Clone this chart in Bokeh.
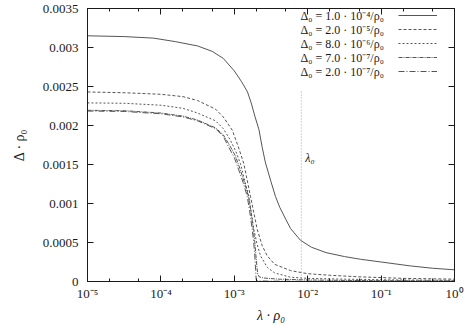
from bokeh.plotting import figure
from bokeh.models import LogAxis, LinearAxis, FixedTicker, Legend, LegendItem, Label, Range1d
from bokeh.embed import file_html
from bokeh.resources import INLINE

# ---- data ----
x_ticks = [1e-5, 1e-4, 1e-3, 1e-2, 1e-1, 1.0]
x_tick_labels = ["10⁻⁵", "10⁻⁴", "10⁻³", "10⁻²", "10⁻¹", "10⁰"]
x_minor = [2e-5, 5e-5, 2e-4, 5e-4, 2e-3, 5e-3, 2e-2, 5e-2, 2e-1, 5e-1]
y_ticks = [0.0, 0.0005, 0.001, 0.0015, 0.002, 0.0025, 0.003, 0.0035]
y_tick_labels = ["0", "0.0005", "0.001", "0.0015", "0.002", "0.0025", "0.003", "0.0035"]

series_labels = [
    "Δ₀ = 1.0 · 10⁻⁴/ρ₀",
    "Δ₀ = 2.0 · 10⁻⁵/ρ₀",
    "Δ₀ = 8.0 · 10⁻⁶/ρ₀",
    "Δ₀ = 7.0 · 10⁻⁷/ρ₀",
    "Δ₀ = 2.0 · 10⁻⁷/ρ₀",
]

lam_1 = [1e-5, 3.16e-5, 7.94e-5, 1.58e-4, 3.16e-4, 5.01e-4, 7.08e-4, 1.0e-3, 1.26e-3, 1.514e-3,
         1.698e-3, 1.905e-3, 2.163e-3, 2.399e-3, 2.661e-3, 3.162e-3, 3.639e-3, 4.169e-3, 5.012e-3, 5.834e-3,
         7.94e-3, 1.12e-2, 1.78e-2, 3.16e-2, 5.25e-2, 0.1, 0.25, 0.5, 1.0]
delta_1 = [0.003150, 0.003140, 0.003120, 0.003075, 0.003020, 0.002950, 0.002860, 0.002700, 0.002560, 0.002430,
           0.002290, 0.002120, 0.001950, 0.001720, 0.001520, 0.001280, 0.001090, 0.000950, 0.000800, 0.000680,
           0.000530, 0.000440, 0.000370, 0.000320, 0.000285, 0.000250, 0.000200, 0.000170, 0.000150]

lam_2 = [1e-5, 3.16e-5, 1e-4, 2.0e-4, 3.16e-4, 5.55e-4, 7.08e-4, 9.38e-4, 1.122e-3, 1.349e-3,
         1.663e-3, 2.051e-3, 2.399e-3, 2.805e-3, 3.548e-3, 5.834e-3, 1e-2, 2.0e-2, 5.0e-2, 0.2, 1.0]
delta_2 = [0.002430, 0.002420, 0.002400, 0.002370, 0.002320, 0.002210, 0.002110, 0.001940, 0.001740, 0.001510,
           0.001090, 0.000670, 0.000460, 0.000330, 0.000220, 0.000140, 0.000100, 0.000080, 0.000060, 0.000040,
           0.000030]

lam_3 = [1e-5, 3.16e-5, 1e-4, 2.0e-4, 3.16e-4, 5.55e-4, 7.08e-4, 8.87e-4, 1.047e-3, 1.213e-3,
         1.380e-3, 1.578e-3, 1.845e-3, 2.042e-3, 2.275e-3, 2.818e-3, 3.548e-3, 5.834e-3, 1e-2, 3.16e-2,
         0.158, 1.0]
delta_3 = [0.002290, 0.002285, 0.002260, 0.002220, 0.002160, 0.002060, 0.001960, 0.001810, 0.001670, 0.001510,
           0.001300, 0.001090, 0.000670, 0.000480, 0.000330, 0.000180, 0.000110, 0.000055, 0.000040, 0.000030,
           0.000020, 0.000015]

lam_4 = [1e-5, 3.16e-5, 1e-4, 2.0e-4, 3.16e-4, 5.55e-4, 7.08e-4, 8.71e-4, 1.035e-3, 1.189e-3,
         1.365e-3, 1.549e-3, 1.679e-3, 1.811e-3, 1.905e-3, 1.972e-3, 2.042e-3, 2.089e-3, 2.188e-3, 2.512e-3,
         3.981e-3, 1e-2, 5.0e-2, 1.0]
delta_4 = [0.002195, 0.002190, 0.002160, 0.002120, 0.002070, 0.001970, 0.001880, 0.001740, 0.001610, 0.001450,
           0.001280, 0.001100, 0.000910, 0.000680, 0.000500, 0.000330, 0.000170, 0.000090, 0.000060, 0.000045,
           0.000030, 0.000020, 0.000012, 0.000007]

lam_5 = [1e-5, 3.16e-5, 1e-4, 2.0e-4, 3.16e-4, 5.55e-4, 7.08e-4, 8.41e-4, 1.0e-3, 1.151e-3,
         1.318e-3, 1.500e-3, 1.622e-3, 1.754e-3, 1.841e-3, 1.901e-3, 1.950e-3, 1.986e-3, 2.042e-3, 3.162e-3,
         1.0]
delta_5 = [0.002185, 0.002180, 0.002150, 0.002110, 0.002060, 0.001960, 0.001860, 0.001720, 0.001590, 0.001430,
           0.001270, 0.001090, 0.000900, 0.000670, 0.000500, 0.000330, 0.000150, 0.000030, 0.000008, 0.000004,
           0.000002]

lambda_0 = 0.0082
lambda_0_line_top = 0.00245
lambda_0_label_y = 0.00158

# ---- styling ----
SERIF = "Liberation Serif"
INK = "#1a1a1a"
CURVE = "#555555"
dashes = ["solid", "3 2", "2 2", "4 1 1 1", "6 2 1 2"]

p = figure(width=464, height=325, x_axis_type="log",
           x_range=Range1d(1e-5, 1.0), y_range=Range1d(0, 0.0035),
           output_backend="svg", toolbar_location=None,
           min_border_left=87, min_border_right=10, min_border_top=8, min_border_bottom=41)
p.grid.visible = False
p.outline_line_color = INK
p.outline_line_width = 1
p.background_fill_color = "white"
p.border_fill_color = "white"


def style_axis(ax, labels=True):
    ax.axis_line_color = INK
    ax.major_tick_line_color = INK
    ax.minor_tick_line_color = INK
    ax.major_tick_in = 6
    ax.major_tick_out = 0
    ax.minor_tick_in = 3
    ax.minor_tick_out = 0
    if labels:
        ax.major_label_text_font = SERIF
        ax.major_label_text_font_size = "13px"
        ax.major_label_text_color = INK
    else:
        ax.major_label_text_font_size = "1px"
        ax.major_label_text_alpha = 0
        ax.major_label_standoff = 0


xax = p.xaxis[0]
xax.ticker = FixedTicker(ticks=x_ticks, minor_ticks=x_minor)
xax.major_label_overrides = dict(zip(x_ticks, x_tick_labels))
style_axis(xax)
xax.major_label_standoff = 4
xax.axis_label = "λ · ρ₀"
xax.axis_label_text_font = SERIF
xax.axis_label_text_font_style = "italic"
xax.axis_label_text_font_size = "14px"
xax.axis_label_text_color = INK
xax.axis_label_standoff = 4

yax = p.yaxis[0]
yax.ticker = FixedTicker(ticks=y_ticks, minor_ticks=[])
yax.major_label_overrides = dict(zip(y_ticks, y_tick_labels))
style_axis(yax)
yax.major_label_standoff = 9
yax.axis_label = "Δ · ρ₀"
yax.axis_label_text_font = SERIF
yax.axis_label_text_font_style = "normal"
yax.axis_label_text_font_size = "14px"
yax.axis_label_text_color = INK
yax.axis_label_standoff = 13

top = LogAxis(ticker=FixedTicker(ticks=x_ticks, minor_ticks=x_minor))
style_axis(top, labels=False)
p.add_layout(top, "above")
right = LinearAxis(ticker=FixedTicker(ticks=y_ticks, minor_ticks=[]))
style_axis(right, labels=False)
p.add_layout(right, "right")

lams = [lam_1, lam_2, lam_3, lam_4, lam_5]
deltas = [delta_1, delta_2, delta_3, delta_4, delta_5]
renderers = []
for lam, d, dash in zip(lams, deltas, dashes):
    r = p.line(lam, d, line_color=CURVE, line_width=1, line_dash=dash)
    renderers.append(r)

p.segment(x0=[lambda_0], y0=[0], x1=[lambda_0], y1=[lambda_0_line_top],
          line_color="#aaaaaa", line_width=1, line_dash="1 2")
p.add_layout(Label(x=lambda_0, y=lambda_0_label_y, x_offset=4, text="λ₀",
                   text_font=SERIF, text_font_style="italic", text_font_size="12px",
                   text_color=INK, text_baseline="middle"))

# ---- key: text on the left, line sample on the right (gnuplot style) ----
ROW = 14            # row pitch, px
KEY_TOP = 273       # px above the frame bottom: top edge of the key
TEXT_X = 213        # px right of the frame's left edge
SAMPLE_X = 311

leg_glyph = Legend(items=[LegendItem(label=" ", renderers=[r]) for r in renderers],
                   location=(SAMPLE_X, KEY_TOP - 5 * ROW), glyph_width=39, glyph_height=ROW,
                   label_height=ROW, label_width=1, label_standoff=0, label_text_font_size="6px",
                   padding=0, spacing=0, margin=0, border_line_color=None,
                   background_fill_alpha=0)
p.add_layout(leg_glyph)

for i, t in enumerate(series_labels):
    p.add_layout(Label(x=TEXT_X, y=KEY_TOP - (i + 0.5) * ROW, x_units="screen", y_units="screen",
                       text=t, text_font=SERIF, text_font_size="12px", text_color=INK,
                       text_baseline="middle", text_align="left"))

open("out.html", "w").write(file_html(p, INLINE))
